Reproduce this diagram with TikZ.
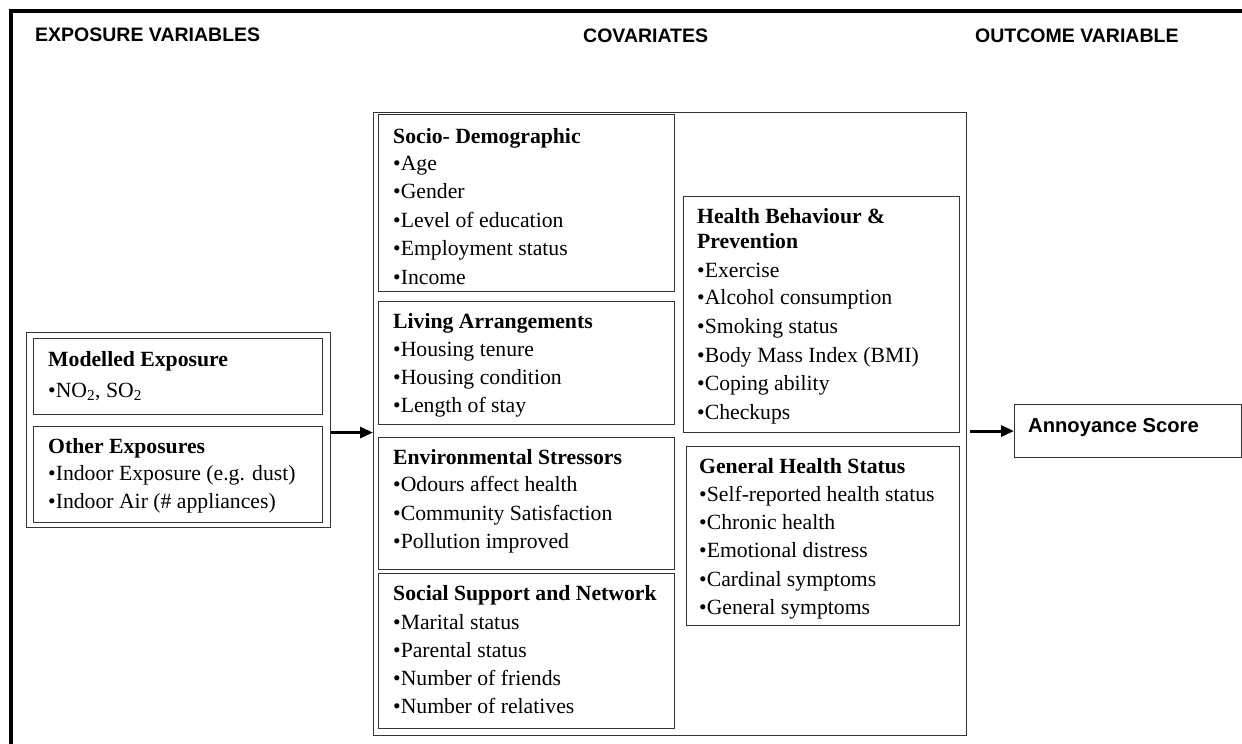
\documentclass[tikz,border=0pt]{standalone}
\usepackage{fontspec}
\setmainfont{Liberation Serif}
\newfontfamily\arialfont{Liberation Sans}
\usetikzlibrary{arrows.meta}
\begin{document}
\begin{tikzpicture}[x=1pt,y=-1pt,
  bx/.style={draw=black!80, line width=1.1pt, inner sep=0pt, anchor=north west, fill=none},
  txt/.style={anchor=base west, inner sep=0pt, font=\fontsize{21.7}{26}\selectfont},
  ttl/.style={txt, font=\fontsize{21.7}{26}\selectfont\bfseries},
  hdr/.style={anchor=base west, inner sep=0pt, font=\arialfont\bfseries\fontsize{19.5}{23}\selectfont},
  arr/.style={line width=3pt, -{Triangle[length=13pt,width=11pt]}}]
\useasboundingbox (0,0) rectangle (1242,744);
\fill[white] (0,0) rectangle (1242,744);
% frame
\draw[line width=4.5pt] (11,744) -- (11,11) -- (1242,11);
% headers
\node[hdr] (h1) at (35,41) {EXPOSURE VARIABLES};
\node[hdr] (h2) at (583,42) {COVARIATES};
\node[hdr] (h3) at (975,42) {OUTCOME VARIABLE};
% boxes
\node[bx, minimum width=304, minimum height=195] (expo) at (26,332) {};
\node[bx, minimum width=289, minimum height=76] (model) at (33,338) {};
\node[bx, minimum width=289, minimum height=96] (other) at (33,426) {};
\node[bx, minimum width=593, minimum height=623] (cov) at (373,112) {};
\node[bx, minimum width=296, minimum height=177] (socio) at (378,114) {};
\node[bx, minimum width=296, minimum height=123] (living) at (378,301) {};
\node[bx, minimum width=296, minimum height=132] (env) at (378,437) {};
\node[bx, minimum width=296, minimum height=155] (social) at (378,573) {};
\node[bx, minimum width=276, minimum height=236] (hb) at (683,196) {};
\node[bx, minimum width=273, minimum height=179] (gh) at (686,446) {};
\node[bx, minimum width=227, minimum height=53] (ann) at (1014,404) {};
% texts: exposures
\node[ttl] (m0) at (48,366) {Modelled Exposure};
\node[txt] (m1) at (48,397) {•NO\textsubscript{2}, SO\textsubscript{2}};
\node[ttl] (o0) at (48,453) {Other Exposures};
\node[txt] (o1) at (48,480) {•Indoor Exposure (e.g. dust)};
\node[txt] (o2) at (48,508) {•Indoor Air (\# appliances)};
% socio
\node[ttl] (s0) at (393,143) {Socio- Demographic};
\node[txt] (s1) at (393,170) {•Age};
\node[txt] (s2) at (393,198.5) {•Gender};
\node[txt] (s3) at (393,227) {•Level of education};
\node[txt] (s4) at (393,255.5) {•Employment status};
\node[txt] (s5) at (393,284) {•Income};
% living
\node[ttl] (l0) at (393,328) {Living Arrangements};
\node[txt] (l1) at (393,356) {•Housing tenure};
\node[txt] (l2) at (393,384) {•Housing condition};
\node[txt] (l3) at (393,412) {•Length of stay};
% environment
\node[ttl] (e0) at (393,464) {Environmental Stressors};
\node[txt] (e1) at (393,491) {•Odours affect health};
\node[txt] (e2) at (393,520) {•Community Satisfaction};
\node[txt] (e3) at (393,548) {•Pollution improved};
% social
\node[ttl] (n0) at (393,600) {Social Support and Network};
\node[txt] (n1) at (393,629) {•Marital status};
\node[txt] (n2) at (393,657) {•Parental status};
\node[txt] (n3) at (393,685) {•Number of friends};
\node[txt] (n4) at (393,713) {•Number of relatives};
% health behaviour
\node[ttl] (b0) at (697,223) {Health Behaviour \&};
\node[ttl] (b1) at (697,248) {Prevention};
\node[txt] (b2) at (697,277) {•Exercise};
\node[txt] (b3) at (697,304) {•Alcohol consumption};
\node[txt] (b4) at (697,333) {•Smoking status};
\node[txt] (b5) at (697,362) {•Body Mass Index (BMI)};
\node[txt] (b6) at (697,390) {•Coping ability};
\node[txt] (b7) at (697,419) {•Checkups};
% general health
\node[ttl] (g0) at (699,473) {General Health Status};
\node[txt] (g1) at (699,501) {•Self-reported health status};
\node[txt] (g2) at (699,529) {•Chronic health};
\node[txt] (g3) at (699,557) {•Emotional distress};
\node[txt] (g4) at (699,586) {•Cardinal symptoms};
\node[txt] (g5) at (699,614) {•General symptoms};
% outcome
\node[hdr, font=\arialfont\bfseries\fontsize{20.2}{24}\selectfont] (a0) at (1028,432) {Annoyance Score};
% arrows
\draw[arr] ([yshift=-2.5pt]expo.east) -- ([yshift=-2.5pt]expo.east -| cov.west);
\draw[arr] ([xshift=3pt]cov.east |- ann.west) -- (ann.west);
\end{tikzpicture}
\end{document}
